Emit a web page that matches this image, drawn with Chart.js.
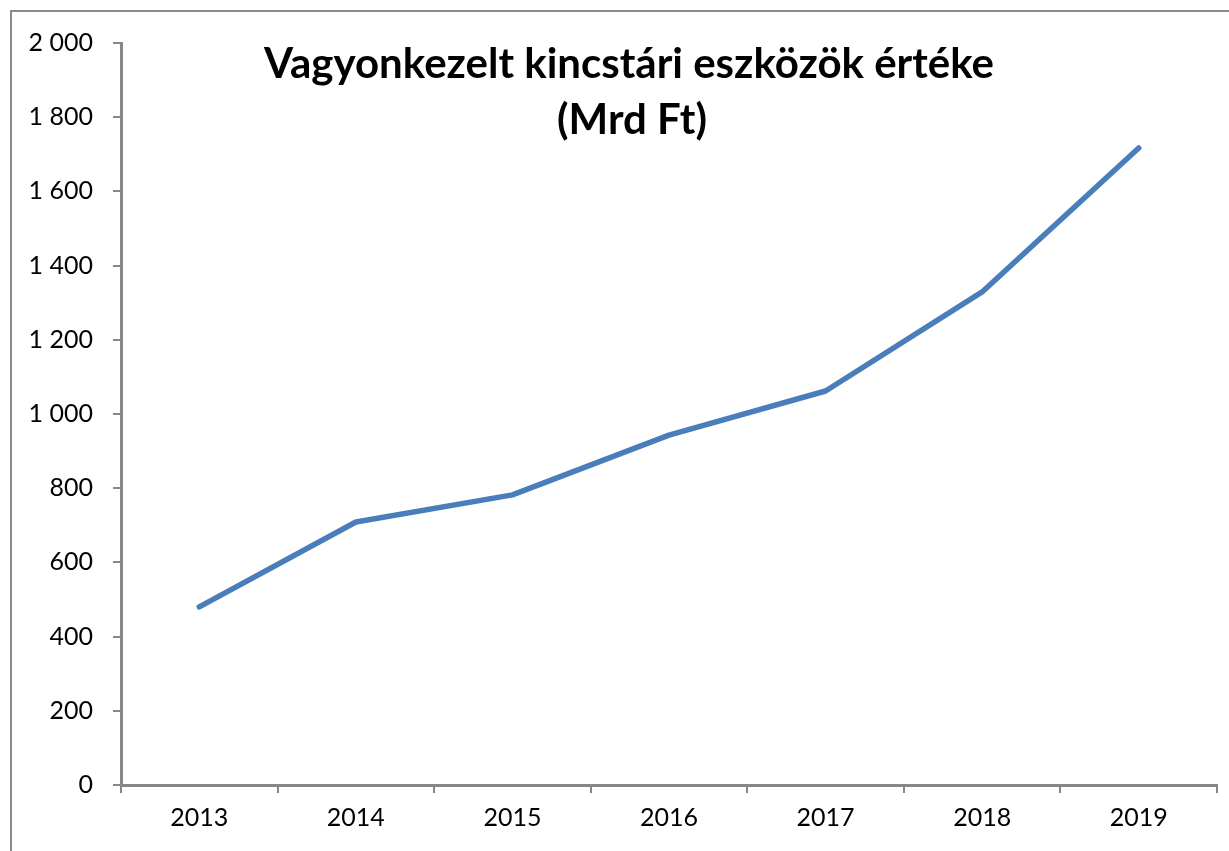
<!DOCTYPE html>
<html>
<head>
<meta charset="utf-8">
<script src="https://cdn.jsdelivr.net/npm/chart.js@4/dist/chart.umd.min.js"></script>
<style>
  html, body { margin: 0; padding: 0; background: #fff; overflow: hidden; }
  #wrap { position: relative; width: 1229px; height: 851px; }
  #frame { position: absolute; left: 10px; top: 10px; width: 1240px; height: 900px; border: 2px solid #8c8c8c; box-sizing: border-box; }
  canvas { position: absolute; left: 0; top: 0; }
</style>
</head>
<body>
<div id="wrap">
  <div id="frame"></div>
  <canvas id="chart" width="1229" height="851"></canvas>
</div>
<script>
// Vagyonkezelt kincstári eszközök értéke (Mrd Ft)
const years = ['2013', '2014', '2015', '2016', '2017', '2018', '2019'];
const values = [480, 709, 782, 943, 1062, 1329, 1717];
const titleLines = ['Vagyonkezelt kincstári eszközök értéke', '(Mrd Ft)'];

const axisGray = '#878787';

// title sits inside the plot area, so draw it ourselves
const titlePlugin = {
    id: 'innerTitle',
    afterDraw(chart) {
        const ctx = chart.ctx;
        ctx.save();
        ctx.fillStyle = '#000';
        ctx.font = 'bold 42px Lato';
        ctx.textAlign = 'center';
        ctx.textBaseline = 'middle';
        ctx.fillText(titleLines[0], 629, 64);
        ctx.fillText(titleLines[1], 632, 120);
        ctx.restore();
    }
};

new Chart(document.getElementById('chart'), {
    type: 'line',
    data: {
        labels: years,
        datasets: [{
            data: values,
            borderColor: '#4a7ebb',
            borderWidth: 5.5,
            borderCapStyle: 'round',
            borderJoinStyle: 'round',
            pointRadius: 0,
            tension: 0,
            fill: false
        }]
    },
    options: {
        responsive: false,
        animation: false,
        layout: { padding: { left: 0, top: 43, right: 12, bottom: 0 } },
        plugins: { legend: { display: false }, tooltip: { enabled: false }, title: { display: false } },
        scales: {
            x: {
                offset: true,
                grid: { offset: true, drawOnChartArea: false, drawTicks: true, tickLength: 8, color: axisGray, lineWidth: 2 },
                border: { color: axisGray, width: 3 },
                ticks: { color: '#000', font: { family: 'Lato', size: 25 }, padding: 10, maxRotation: 0 },
                afterFit: s => { s.height = 66; }
            },
            y: {
                min: 0,
                max: 2000,
                grid: { drawOnChartArea: false, drawTicks: true, tickLength: 8, color: axisGray, lineWidth: 2 },
                border: { color: axisGray, width: 3 },
                ticks: {
                    stepSize: 200,
                    color: '#000',
                    font: { family: 'Lato', size: 25 },
                    padding: 20,
                    callback: v => String(v).replace(/\B(?=(\d{3})+(?!\d))/g, ' ')
                },
                afterFit: s => { s.width = 121; }
            }
        }
    },
    plugins: [titlePlugin]
});
</script>
</body>
</html>
